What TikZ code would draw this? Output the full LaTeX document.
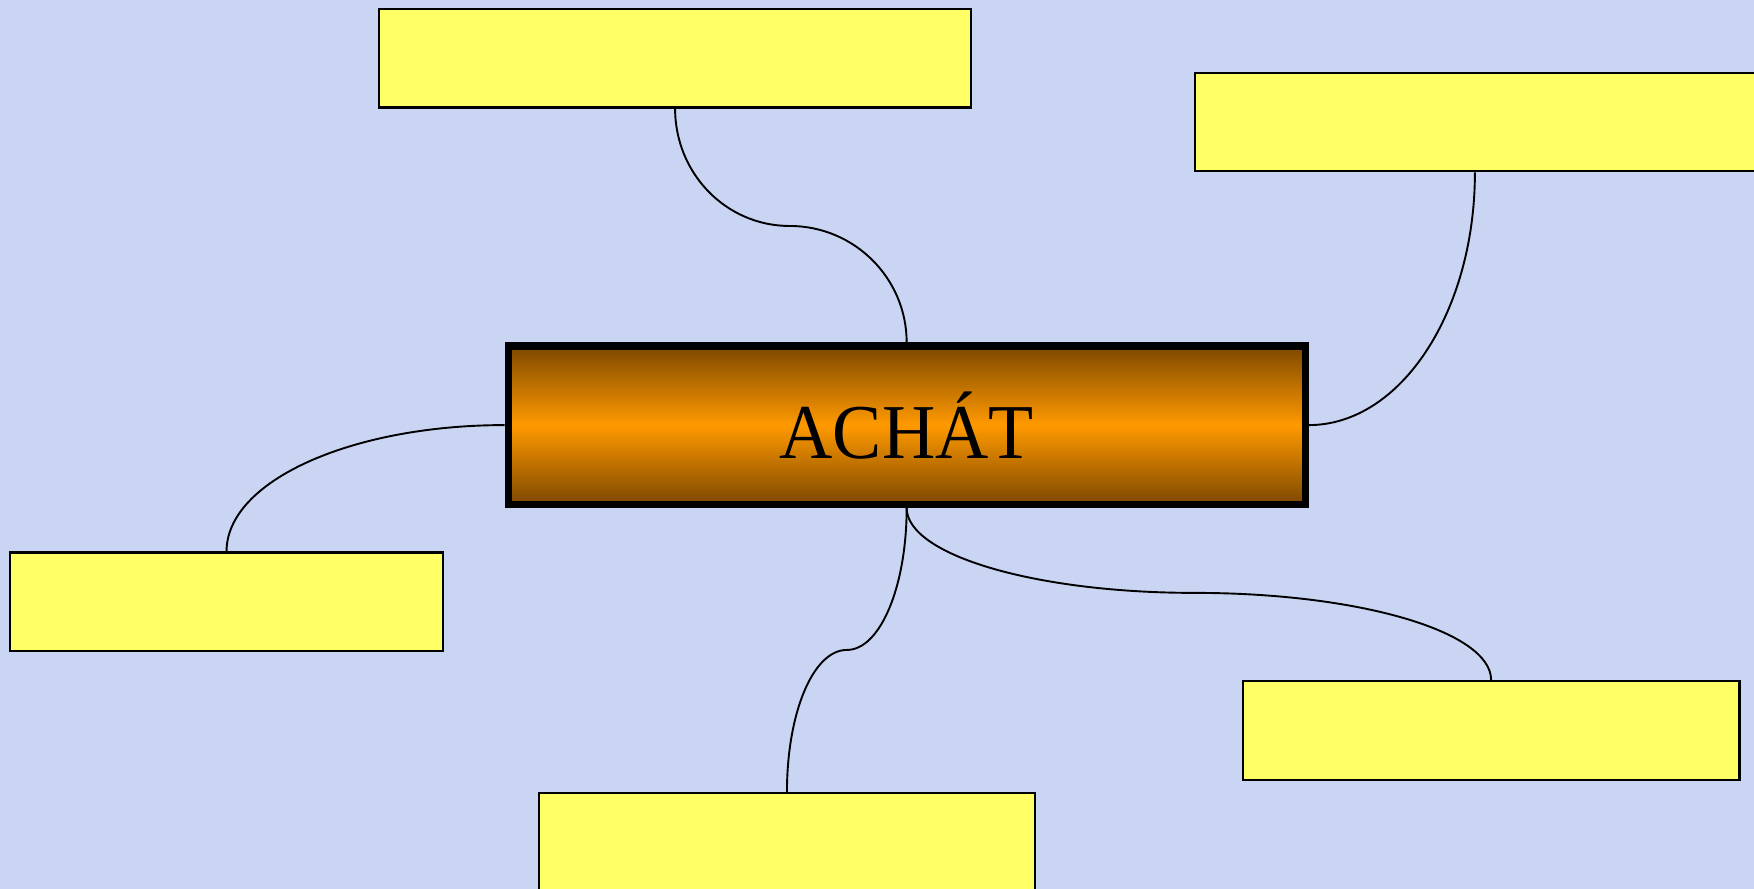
\documentclass[tikz,border=0pt]{standalone}
\usepackage{fontspec}
\usepackage{graphicx}
\setmainfont{Liberation Serif}
\definecolor{bgblue}{HTML}{C9D5F3}
\definecolor{boxyellow}{HTML}{FFFF66}
\definecolor{hubdark}{HTML}{7D4800}
\definecolor{huborange}{HTML}{FF9900}
\pgfdeclarelayer{bg}
\pgfdeclarelayer{links}
\pgfsetlayers{bg,links,main}
\tikzset{
  leaf/.style={draw=black, line width=1pt, fill=boxyellow, minimum height=44pt, inner sep=0pt},
  hubbox/.style={draw=black, line width=3.25pt, top color=hubdark, bottom color=hubdark, middle color=huborange,
    minimum width=356.25pt, minimum height=70.75pt, inner sep=0pt, font=\fontsize{34.7}{40}\selectfont},
  link/.style={draw=black, line width=0.85pt}
}
\begin{document}
\begin{tikzpicture}[x=0.5pt,y=-0.5pt]
\useasboundingbox (0,0) rectangle (1568,794.7);
\clip (0,0) rectangle (1568,794.7);
\begin{pgfonlayer}{bg}
\fill[bgblue] (0,0) rectangle (1568,794.7);
\end{pgfonlayer}
% nodes
\node[leaf, minimum width=264.5pt] (top) at (603.5,52) {};
\node[leaf, minimum width=250.5pt] (tr) at (1318.5,109) {};
\node[leaf, minimum width=193.5pt] (lf) at (202.5,538) {};
\node[leaf, minimum width=222pt] (br) at (1333,653) {};
\node[leaf, minimum width=221.5pt] (bt) at (703.5,753) {};
\node[hubbox] (hub) at (810.5,380) {\scalebox{0.95}[1]{ACHÁT}};
\coordinate (m1) at (706,202);
\coordinate (m4) at (757,581);
\coordinate (m5) at (1068,530);
% connectors
\begin{pgfonlayer}{links}
\path[link] (top.south) .. controls +(0,58) and +(-57,0) .. (m1)
  .. controls +(58,0) and +(0,-57) .. (hub.north);
\path[link] (tr.south) .. controls +(0,125) and +(82,0) .. (hub.east);
\path[link] (hub.west) .. controls +(-137,0) and +(0,-63) .. (lf.north);
\path[link] (hub.south) .. controls +(0,70) and +(30,0) .. (m4)
  .. controls +(-30,0) and +(0,-71) .. (bt.north);
\path[link] (hub.south) .. controls +(0,42) and +(-143,0) .. (m5)
  .. controls +(145,0) and +(0,-44) .. (br.north);
\end{pgfonlayer}
\end{tikzpicture}
\end{document}
